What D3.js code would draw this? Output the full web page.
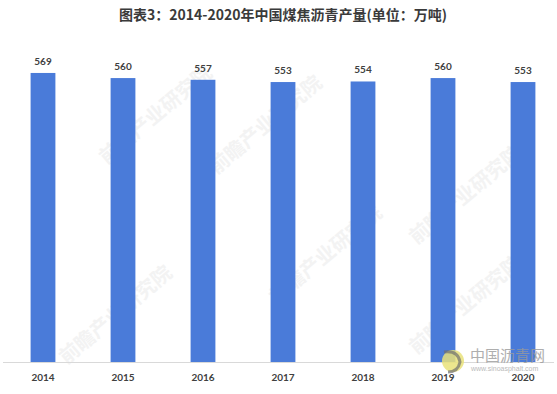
<!DOCTYPE html>
<html>
<head>
<meta charset="utf-8">
<script src="https://cdn.jsdelivr.net/npm/d3@7"></script>
<style>
  body { margin: 0; background: #fff; }
  svg { display: block; }
</style>
</head>
<body>
<svg id="chart" width="557" height="394"></svg>
<script>
var years = ["2014", "2015", "2016", "2017", "2018", "2019", "2020"];
var output = [569, 560, 557, 553, 554, 560, 553];
var title = "图表3：2014-2020年中国煤焦沥青产量(单位：万吨)";

var svg = d3.select("#chart"),
    width = +svg.attr("width"),
    height = +svg.attr("height");

var x = d3.scaleBand()
    .domain(years)
    .range([3, 563])
    .paddingInner(0.69)
    .paddingOuter(0.345);

var y = d3.scaleLinear()
    .domain([60, 620])
    .range([362, 44]);

// faint watermarks
var wm = svg.append("g").attr("fill", "#f3f3f3")
    .style("font-family", "'Noto Sans CJK SC', sans-serif")
    .style("font-weight", "bold")
    .style("font-size", "20px");
[[160, 120], [270, 130], [470, 200], [330, 260], [120, 320], [470, 310]].forEach(function(p) {
  wm.append("text")
    .attr("transform", "translate(" + p[0] + "," + p[1] + ") rotate(-40)")
    .attr("text-anchor", "middle")
    .text("前瞻产业研究院");
});

svg.append("text")
    .attr("x", 283)
    .attr("y", 20)
    .attr("text-anchor", "middle")
    .attr("fill", "#3a3a3a")
    .style("font-family", "'Noto Sans CJK SC', sans-serif")
    .style("font-weight", "bold")
    .style("font-size", "14px")
    .text(title);

svg.append("line")
    .attr("x1", 3).attr("x2", 554)
    .attr("y1", 362.5).attr("y2", 362.5)
    .attr("stroke", "#d9d9d9");

svg.selectAll(".bar")
    .data(output)
    .enter().append("rect")
    .attr("class", "bar")
    .attr("x", function(d, i) { return x(years[i]); })
    .attr("width", x.bandwidth())
    .attr("y", function(d) { return y(d); })
    .attr("height", function(d) { return y.range()[0] - y(d); })
    .attr("fill", "#4a7bd9");

svg.selectAll(".val")
    .data(output)
    .enter().append("text")
    .attr("class", "val")
    .attr("x", function(d, i) { return x(years[i]) + x.bandwidth() / 2; })
    .attr("y", function(d) { return y(d) - 8; })
    .attr("text-anchor", "middle")
    .attr("fill", "#404040")
    .style("font-family", "Lato, sans-serif")
    .style("font-weight", "bold")
    .style("font-size", "10px")
    .text(function(d) { return d; });

svg.selectAll(".year")
    .data(years)
    .enter().append("text")
    .attr("class", "year")
    .attr("x", function(d) { return x(d) + x.bandwidth() / 2; })
    .attr("y", 381)
    .attr("text-anchor", "middle")
    .attr("fill", "#404040")
    .style("font-family", "Lato, sans-serif")
    .style("font-weight", "bold")
    .style("font-size", "10px")
    .text(function(d) { return d; });

// logo, bottom right
var logo = svg.append("g");
logo.append("circle").attr("cx", 453).attr("cy", 361).attr("r", 11).attr("fill", "#e9e27a").attr("opacity", 0.85);
logo.append("path").attr("d", "M444,352 Q458,350 460,362 Q458,372 448,372").attr("fill", "none").attr("stroke", "#6f6f6f").attr("stroke-width", 3).attr("opacity", 0.7);
logo.append("text")
    .attr("x", 470).attr("y", 361)
    .attr("fill", "#9a9a9a").attr("opacity", 0.8)
    .style("font-family", "'Noto Sans CJK SC', sans-serif")
    .style("font-size", "15px")
    .text("中国沥青网");
logo.append("text")
    .attr("x", 471).attr("y", 371)
    .attr("fill", "#aaaaaa").attr("opacity", 0.8)
    .style("font-family", "Arial, sans-serif")
    .style("font-size", "7px")
    .text("www.sinoasphalt.com");
</script>
</body>
</html>
